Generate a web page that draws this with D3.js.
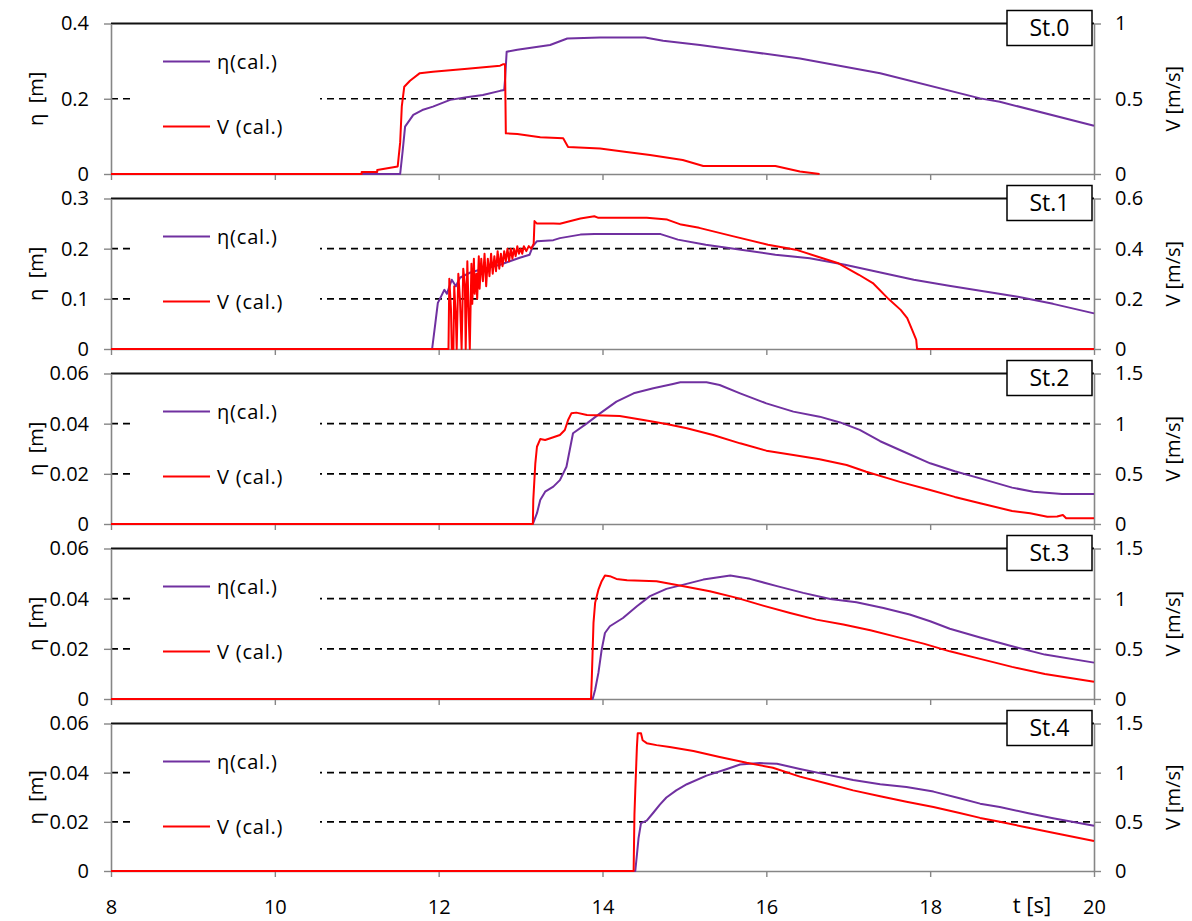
<!DOCTYPE html>
<html><head><meta charset="utf-8">
<script src="https://cdn.jsdelivr.net/npm/d3@7"></script>
<style>body{margin:0;background:#fff;}svg{display:block;font-family:"Open Sans",sans-serif;}</style>
</head><body><svg id="c" width="1192" height="921"></svg>
<script>
const stations = ["St.0","St.1","St.2","St.3","St.4"];
const tTicks = [8,10,12,14,16,18,20];
const etaTicks = [[0,0.2,0.4],[0,0.1,0.2,0.3],[0,0.02,0.04,0.06],[0,0.02,0.04,0.06],[0,0.02,0.04,0.06]];
const vTicks = [[0,0.5,1],[0,0.2,0.4,0.6],[0,0.5,1,1.5],[0,0.5,1,1.5],[0,0.5,1,1.5]];
const seriesNames = ["η(cal.)","V (cal.)"];

const eta0 = [[8,0],[11.53,0],[11.56,0.06],[11.59,0.126],[11.69,0.157],[11.80,0.170],[11.93,0.179],[12.14,0.197],[12.34,0.204],[12.54,0.21],[12.75,0.221],[12.80,0.223],[12.81,0.25],[12.83,0.325],[12.96,0.33],[13.36,0.343],[13.57,0.36],[13.97,0.363],[14.52,0.363],[14.74,0.354],[15.19,0.343],[15.80,0.325],[16.41,0.307],[17.39,0.268],[18.61,0.201],[18.85,0.192],[20,0.128]];
const v0 = [[8,0],[11.06,0],[11.06,0.013],[11.25,0.013],[11.25,0.027],[11.50,0.05],[11.53,0.21],[11.55,0.45],[11.58,0.58],[11.65,0.62],[11.77,0.67],[11.93,0.68],[12.14,0.69],[12.35,0.70],[12.75,0.72],[12.79,0.73],[12.81,0.73],[12.82,0.27],[12.96,0.266],[13.24,0.244],[13.52,0.237],[13.58,0.18],[13.97,0.17],[14.27,0.148],[14.58,0.126],[14.98,0.093],[15.23,0.053],[16.11,0.053],[16.41,0.016],[16.65,0]];

const eta1 = [[8,0],[11.92,0],[11.96,0.052],[11.99,0.092],[12.03,0.105],[12.07,0.118],[12.10,0.110],[12.16,0.138],[12.21,0.125],[12.26,0.142],[12.38,0.152],[12.50,0.158],[12.75,0.168],[12.99,0.182],[13.11,0.188],[13.15,0.205],[13.20,0.215],[13.40,0.217],[13.48,0.221],[13.73,0.228],[13.90,0.229],[14.71,0.229],[14.92,0.218],[15.26,0.208],[15.69,0.198],[16.11,0.188],[16.53,0.181],[16.96,0.168],[17.38,0.153],[17.80,0.138],[18.23,0.126],[18.65,0.115],[19.07,0.104],[19.50,0.09],[20,0.071]];
const v1 = [[8,0],[12.12,0],[12.13,0.28],[12.15,0.16],[12.16,0],[12.18,0],[12.19,0.25],[12.21,0.12],[12.22,0],[12.24,0.30],[12.26,0.2],[12.28,0],[12.30,0.32],[12.32,0.26],[12.33,0],[12.35,0.35],[12.37,0.1],[12.38,0],[12.40,0.34],[12.41,0.18],[12.43,0.36],[12.44,0.22],[12.46,0.30],[12.47,0.20],[12.49,0.37],[12.50,0.24],[12.52,0.36],[12.54,0.27],[12.56,0.38],[12.58,0.25],[12.60,0.36],[12.62,0.29],[12.64,0.38],[12.66,0.30],[12.68,0.37],[12.70,0.31],[12.72,0.39],[12.74,0.32],[12.76,0.38],[12.78,0.33],[12.80,0.39],[12.82,0.35],[12.84,0.40],[12.86,0.35],[12.88,0.40],[12.90,0.36],[12.92,0.40],[12.94,0.37],[12.96,0.41],[12.98,0.38],[13.00,0.40],[13.02,0.38],[13.04,0.41],[13.07,0.39],[13.10,0.41],[13.13,0.40],[13.16,0.42],[13.17,0.51],[13.20,0.50],[13.40,0.50],[13.48,0.499],[13.73,0.52],[13.90,0.529],[13.95,0.523],[14.54,0.523],[14.79,0.516],[14.96,0.496],[15.18,0.483],[15.60,0.449],[16.02,0.416],[16.36,0.396],[16.62,0.369],[16.87,0.343],[17.13,0.296],[17.30,0.263],[17.49,0.2],[17.64,0.156],[17.72,0.123],[17.78,0.076],[17.83,0.036],[17.84,0],[20,0]];

const eta2 = [[8,0],[13.15,0],[13.20,0.0043],[13.24,0.0096],[13.30,0.0129],[13.40,0.0149],[13.48,0.0175],[13.56,0.0228],[13.60,0.0295],[13.64,0.0362],[13.81,0.0401],[13.97,0.0441],[14.17,0.0488],[14.38,0.0521],[14.62,0.0541],[14.86,0.0558],[14.95,0.0565],[15.27,0.0565],[15.43,0.0554],[15.68,0.0521],[16.00,0.0481],[16.33,0.0448],[16.65,0.0428],[16.90,0.0405],[17.14,0.0375],[17.39,0.033],[17.63,0.0295],[18.0,0.0242],[18.3,0.021],[18.61,0.0182],[19.0,0.0145],[19.26,0.0129],[19.61,0.012],[20,0.012]];
const v2 = [[8,0],[13.15,0],[13.155,0.24],[13.18,0.605],[13.20,0.77],[13.24,0.847],[13.30,0.837],[13.40,0.864],[13.48,0.887],[13.54,0.937],[13.58,1.037],[13.62,1.103],[13.68,1.11],[13.81,1.086],[14.21,1.076],[14.50,1.037],[14.78,0.997],[15.03,0.954],[15.35,0.887],[15.68,0.804],[16.00,0.731],[16.33,0.688],[16.65,0.645],[16.98,0.588],[17.22,0.521],[17.47,0.46],[17.63,0.42],[18.0,0.339],[18.3,0.27],[18.61,0.206],[19.0,0.13],[19.22,0.107],[19.43,0.073],[19.55,0.075],[19.62,0.09],[19.66,0.057],[20,0.057]];

const eta3 = [[8,0],[13.88,0],[13.91,0.0037],[13.95,0.0104],[13.99,0.0197],[14.03,0.0263],[14.09,0.029],[14.25,0.0323],[14.42,0.037],[14.58,0.041],[14.78,0.0439],[14.99,0.0456],[15.23,0.0476],[15.56,0.0492],[15.80,0.0479],[16.13,0.045],[16.45,0.0423],[16.78,0.0399],[17.10,0.0386],[17.43,0.0363],[17.75,0.0337],[18.0,0.031],[18.24,0.028],[18.61,0.0245],[19.0,0.021],[19.4,0.0177],[20,0.0145]];
const v3 = [[8,0],[13.86,0],[13.87,0.225],[13.89,0.758],[13.91,0.958],[13.95,1.09],[13.99,1.174],[14.03,1.23],[14.09,1.224],[14.17,1.197],[14.30,1.184],[14.66,1.174],[14.99,1.124],[15.31,1.074],[15.64,1.008],[15.96,0.931],[16.29,0.858],[16.61,0.791],[16.94,0.742],[17.27,0.685],[17.59,0.619],[17.92,0.552],[18.24,0.475],[18.61,0.40],[19.0,0.32],[19.4,0.25],[20,0.173]];

const eta4 = [[8,0],[14.40,0],[14.42,0.0065],[14.44,0.0134],[14.47,0.0195],[14.54,0.0205],[14.62,0.0237],[14.70,0.027],[14.78,0.0299],[14.90,0.0328],[15.03,0.0353],[15.27,0.0388],[15.52,0.0415],[15.68,0.0433],[15.92,0.0439],[16.13,0.0436],[16.41,0.0415],[16.74,0.0392],[17.06,0.037],[17.39,0.0353],[17.71,0.0342],[18.04,0.0323],[18.36,0.0296],[18.61,0.0274],[18.85,0.026],[19.2,0.0235],[19.5,0.0215],[20,0.0184]];
const v4 = [[8,0],[14.38,0],[14.39,0.574],[14.40,0.814],[14.42,1.26],[14.43,1.40],[14.47,1.40],[14.49,1.33],[14.54,1.30],[14.66,1.28],[14.82,1.26],[15.11,1.22],[15.43,1.16],[15.76,1.10],[16.08,1.05],[16.41,0.96],[16.74,0.89],[17.06,0.82],[17.39,0.76],[17.71,0.705],[18.04,0.65],[18.36,0.59],[18.61,0.54],[18.85,0.50],[19.2,0.44],[19.5,0.39],[20,0.306]];

const etaSeries = [eta0, eta1, eta2, eta3, eta4];
const vSeries = [v0, v1, v2, v3, v4];

// ---------- layout ----------
const svg = d3.select("#c");
const X0 = 111, X1 = 1094;
const FONT = 20;
const AX = "#868686";
const PURPLE = "#7030A0", RED = "#FF0000";
const x = d3.scaleLinear().domain([8,20]).range([X0, X1]);

stations.forEach((st, i) => {
  const top = 23.5 + 175*i;
  const bottom = i < 4 ? top + 150.5 : 871;
  const eMax = etaTicks[i][etaTicks[i].length-1];
  const vMax = vTicks[i][vTicks[i].length-1];
  const yE = d3.scaleLinear().domain([0, eMax]).range([bottom, top]);
  const yV = d3.scaleLinear().domain([0, vMax]).range([bottom, top]);
  const g = svg.append("g");

  etaTicks[i].filter(d => d > 0 && d < eMax).forEach(d => {
    g.append("line").attr("x1", X0).attr("x2", X1).attr("y1", yE(d)).attr("y2", yE(d))
      .attr("stroke", "#000").attr("stroke-width", 1.7).attr("stroke-dasharray", "7,5");
  });
  g.append("line").attr("x1", X0).attr("x2", X1).attr("y1", yE(eMax)).attr("y2", yE(eMax))
    .attr("stroke", "#111").attr("stroke-width", 1.8);

  g.append("rect").attr("x", 130).attr("y", top + 15).attr("width", 190).attr("height", 110).attr("fill", "#fff");

  const fmt = d => String(+d.toFixed(3));
  const la = g.append("g").attr("transform", `translate(${X0},0)`)
    .call(d3.axisLeft(yE).tickValues(etaTicks[i]).tickSize(7).tickSizeOuter(0).tickPadding(15).tickFormat(fmt));
  const ra = g.append("g").attr("transform", `translate(${X1},0)`)
    .call(d3.axisRight(yV).tickValues(vTicks[i]).tickSize(7).tickSizeOuter(0).tickPadding(14).tickFormat(fmt));
  const ba = g.append("g").attr("transform", `translate(0,${bottom})`)
    .call(d3.axisBottom(x).tickValues(tTicks).tickSize(6).tickSizeOuter(0).tickFormat(i === 4 ? d3.format("d") : () => ""));
  [la, ra, ba].forEach(a => {
    a.select(".domain").attr("stroke", AX).attr("stroke-width", 1.6);
    a.selectAll(".tick line").attr("stroke", AX).attr("stroke-width", 1.4);
    a.selectAll("text").attr("font-size", FONT).attr("fill", "#000").attr("font-family", "Open Sans, sans-serif");
  });
  ba.selectAll("text").attr("y", 43).attr("dy", null);

  const lineE = d3.line().x(d => x(d[0])).y(d => yE(d[1]));
  const lineV = d3.line().x(d => x(d[0])).y(d => yV(d[1]));
  g.append("path").datum(etaSeries[i]).attr("d", lineE).attr("fill", "none")
    .attr("stroke", PURPLE).attr("stroke-width", 2).attr("stroke-linejoin", "round");
  g.append("path").datum(vSeries[i]).attr("d", lineV).attr("fill", "none")
    .attr("stroke", RED).attr("stroke-width", 2).attr("stroke-linejoin", "round");

  [[PURPLE, top + 38, seriesNames[0]], [RED, top + 103, seriesNames[1]]].forEach(([c, y, name]) => {
    g.append("line").attr("x1", 163).attr("x2", 210).attr("y1", y).attr("y2", y).attr("stroke", c).attr("stroke-width", 2);
    g.append("text").attr("x", 217).attr("y", y).attr("dy", "0.35em").attr("font-size", FONT)
      .attr("letter-spacing", "0.8px").text(name);
  });

  const midY = (top + bottom) / 2;
  g.append("text").attr("transform", `translate(36,${midY}) rotate(-90)`).attr("text-anchor", "middle")
    .attr("dy", "0.35em").attr("font-size", FONT).attr("xml:space", "preserve").text("η  [m]");
  g.append("text").attr("transform", `translate(1173,${midY}) rotate(-90)`).attr("text-anchor", "middle")
    .attr("dy", "0.35em").attr("font-size", FONT).text("V [m/s]");

  g.append("rect").attr("x", 1007).attr("y", top - 13).attr("width", 85).attr("height", 35)
    .attr("fill", "#fff").attr("stroke", "#000").attr("stroke-width", 1.5);
  g.append("text").attr("x", 1049.5).attr("y", top + 4.5).attr("dy", "0.35em").attr("text-anchor", "middle")
    .attr("font-size", 23).text(st);
});

svg.append("text").attr("x", 1032).attr("y", 913).attr("text-anchor", "middle").attr("font-size", 22).text("t [s]");
</script></body></html>
